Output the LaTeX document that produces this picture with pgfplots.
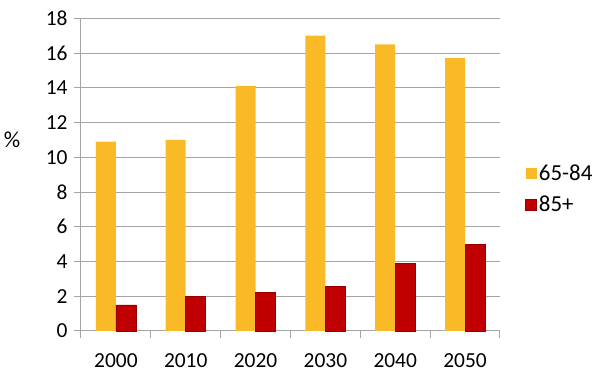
\documentclass[border=0pt]{standalone}
\usepackage{pgfplots}
\pgfplotsset{compat=1.18}
\usepackage{fontspec}
\setmainfont{Carlito}
\definecolor{gold}{RGB}{250,186,40}
\definecolor{dred}{RGB}{192,0,0}
\definecolor{dredb}{RGB}{150,0,0}
\definecolor{gridc}{RGB}{165,165,165}
\newcommand{\fs}{\fontsize{21.5}{25}\selectfont}
\newcommand{\fl}{\fontsize{23}{27}\selectfont}
\begin{document}
\begin{tikzpicture}
\begin{axis}[
  scale only axis,
  width=419bp, height=312.7bp,
  ybar=0pt, bar width=20bp,
  xmin=-0.5, xmax=5.5,
  ymin=0, ymax=18,
  ytick={0,2,...,18},
  xtick={0,1,2,3,4,5},
  xticklabels={2000,2010,2020,2030,2040,2050},
  minor xtick={-0.5,0.5,...,5.5},
  axis x line*=bottom, axis y line*=left,
  axis line style={gridc, line width=1bp, -},
  ymajorgrids, major grid style={gridc, line width=1bp},
  tick align=outside,
  major tick length=7bp, minor tick length=7bp,
  xtick style={draw=none},
  minor x tick style={draw=gridc, line width=1bp},
  ytick style={draw=gridc, line width=1bp},
  /pgf/number format/assume math mode=true,
  tick label style={font=\fs, text=black},
  xticklabel style={yshift=-12bp},
  yticklabel style={xshift=-3bp},
  ylabel={\%},
  every axis y label/.style={at={(rel axis cs:0,0.613)}, anchor=center, xshift=-69bp, font=\fl},
  legend style={at={(rel axis cs:1.06,0.454)}, anchor=west, draw=none, fill=none, font=\fl, row sep=10bp, inner sep=0pt},
  legend cell align=left,
  legend image code/.code={\path[#1] (-3bp,-5.5bp) rectangle (8bp,5.5bp);},
  clip=false,
]
\addplot[fill=gold, draw=none] coordinates {(0,10.9) (1,11.0) (2,14.1) (3,17.0) (4,16.5) (5,15.7)};
\addplot[fill=dred, draw=dredb, line width=0.6bp] coordinates {(0,1.5) (1,1.98) (2,2.2) (3,2.55) (4,3.9) (5,4.97)};
\legend{65-84,85+}
\path (rel axis cs:-0.1933,-0.1695) rectangle (rel axis cs:1.2387,1.0585);
\end{axis}
\end{tikzpicture}
\end{document}
